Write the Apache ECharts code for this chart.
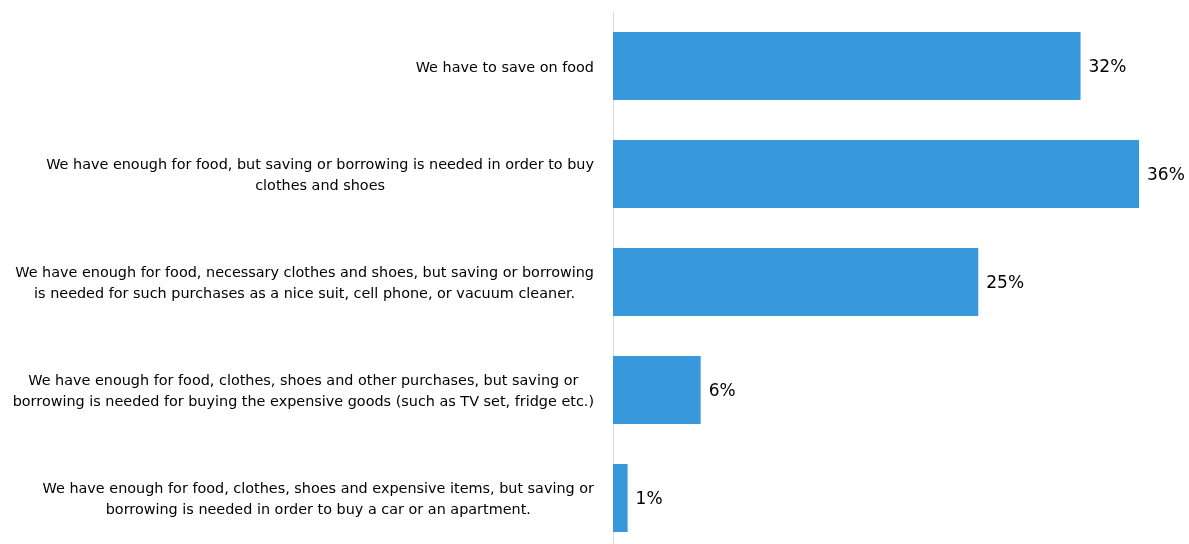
<!DOCTYPE html>
<html>
<head>
<meta charset="utf-8">
<script src="https://cdn.jsdelivr.net/npm/echarts@6/dist/echarts.min.js"></script>
<style>
  html, body { margin: 0; padding: 0; background: #ffffff; }
  #chart { width: 1189px; height: 544px; }
</style>
</head>
<body>
<div id="chart"></div>
<script>
// Household financial situation – share of respondents per answer (%)
const categories = [
  'We have to save on food',
  'We have enough for food, but saving or borrowing is needed in order to buy\nclothes and shoes',
  'We have enough for food, necessary clothes and shoes, but saving or borrowing\nis needed for such purchases as a nice suit, cell phone, or vacuum cleaner.',
  'We have enough for food, clothes, shoes and other purchases, but saving or\nborrowing is needed for buying the expensive goods (such as TV set, fridge etc.)',
  'We have enough for food, clothes, shoes and expensive items, but saving or\nborrowing is needed in order to buy a car or an apartment.'
];
const shares = [32, 36, 25, 6, 1];

const chart = echarts.init(document.getElementById('chart'), null, { renderer: 'canvas' });

// Center each line of a wrapped label while keeping the block right-aligned at the axis
function centeredLines(text) {
  return text.split('\n').map(line => '{c|' + line + '}').join('\n');
}

chart.setOption({
  animation: false,
  backgroundColor: '#ffffff',
  // plot area runs a little past the bottom edge of the canvas
  grid: {
    left: 613, width: 526, top: 12, height: 540,
    containLabel: false,
    outerBoundsMode: 'none'
  },
  xAxis: {
    type: 'value',
    min: 0,
    max: 36,
    show: false
  },
  yAxis: {
    type: 'category',
    inverse: true,
    data: categories,
    axisLine: { show: true, lineStyle: { color: '#d9d9d9', width: 1 } },
    axisTick: { show: false },
    splitLine: { show: false },
    axisLabel: {
      margin: 19,
      padding: [4, 0, 0, 0],
      color: '#000000',
      fontFamily: 'DejaVu Sans',
      fontSize: 14.4,
      lineHeight: 21,
      formatter: centeredLines,
      rich: {
        c: {
          align: 'center',
          fontFamily: 'DejaVu Sans',
          fontSize: 14.4,
          lineHeight: 21,
          color: '#000000'
        }
      }
    }
  },
  series: [{
    type: 'bar',
    data: shares,
    barWidth: 68,
    itemStyle: { color: '#3798db' },
    label: {
      show: true,
      position: 'right',
      distance: 8,
      offset: [0, 2],
      formatter: p => p.value + '%',
      color: '#000000',
      fontFamily: 'DejaVu Sans',
      fontSize: 17
    }
  }]
});
</script>
</body>
</html>
